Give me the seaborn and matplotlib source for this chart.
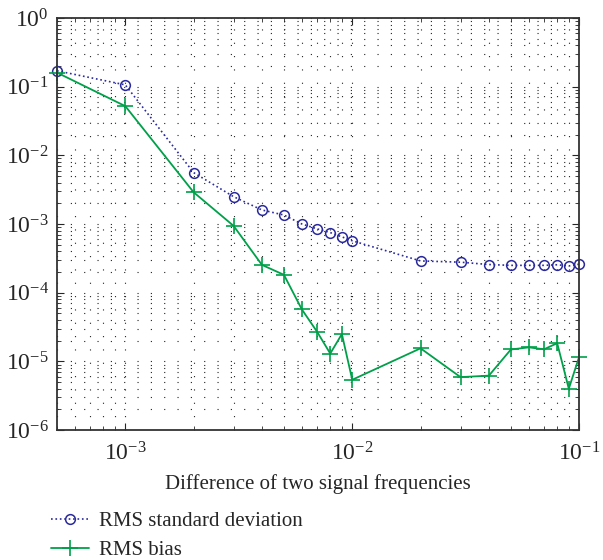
import numpy as np
import pandas as pd
import matplotlib
matplotlib.use('Agg')
import matplotlib.pyplot as plt
import seaborn as sns

# frequency difference
freq_diff = [5e-4, 1e-3, 2e-3, 3e-3, 4e-3, 5e-3, 6e-3, 7e-3, 8e-3, 9e-3,
             1e-2, 2e-2, 3e-2, 4e-2, 5e-2, 6e-2, 7e-2, 8e-2, 9e-2, 1e-1]

rms_std = [0.17, 0.106, 0.0056, 0.0025, 0.0016, 0.00135, 0.001, 0.00085, 0.00075, 0.00065,
           0.00057, 0.00029, 0.000278, 0.000257, 0.00025, 0.00025, 0.00025, 0.000255, 0.000245, 0.00026]

rms_bias = [0.16, 0.052, 0.0029, 0.00094, 0.000254, 0.000182, 5.7e-5, 2.7e-5, 1.3e-5, 2.5e-5,
            5.4e-6, 1.55e-5, 5.9e-6, 6.2e-6, 1.49e-5, 1.6e-5, 1.5e-5, 1.84e-5, 4.0e-6, 1.17e-5]

sns.set_style('ticks')
plt.rcParams['font.family'] = ['Liberation Serif', 'DejaVu Serif']
plt.rcParams['mathtext.fontset'] = 'stix'

df = pd.DataFrame({'f': freq_diff, 'std': rms_std, 'bias': rms_bias})

blue = '#2a2a9e'
green = '#00a04a'

fig = plt.figure(figsize=(6.03, 5.6), dpi=100)
ax = fig.add_axes([0.0945, 0.232, 0.866, 0.736])

sns.lineplot(data=df, x='f', y='std', ax=ax, color=blue, linestyle=':', lw=1.2,
             marker='o', markersize=7, markerfacecolor='none', markeredgecolor=blue,
             markeredgewidth=1.1, label='RMS standard deviation', clip_on=False)
sns.lineplot(data=df, x='f', y='bias', ax=ax, color=green, linestyle='-', lw=1.3,
             marker='+', markersize=11, markeredgecolor=green, markeredgewidth=1.2,
             label='RMS bias', clip_on=False)

ax.set_xscale('log')
ax.set_yscale('log')
ax.set_xlim(5e-4, 1e-1)
ax.set_ylim(1e-6, 1e0)

ax.grid(True, which='both', color='#222222', linestyle=(0, (1, 11)), lw=0.8)
for s in ax.spines.values():
    s.set_linewidth(1.3)
    s.set_color('#333333')
ax.tick_params(which='both', direction='in', top=True, right=True, labelsize=17)
ax.tick_params(which='major', length=5)
ax.tick_params(which='minor', length=3)
ax.tick_params(axis='x', pad=9)
ax.tick_params(axis='y', pad=6)

ax.set_xlabel('Difference of two signal frequencies', fontsize=15, labelpad=6)
ax.set_ylabel('')

ax.legend(loc='upper left', bbox_to_anchor=(-0.027, -0.178), frameon=False, fontsize=15,
          handlelength=1.8, labelspacing=0.45, borderaxespad=0, handletextpad=0.5)

fig.savefig('out.png', dpi=100)
